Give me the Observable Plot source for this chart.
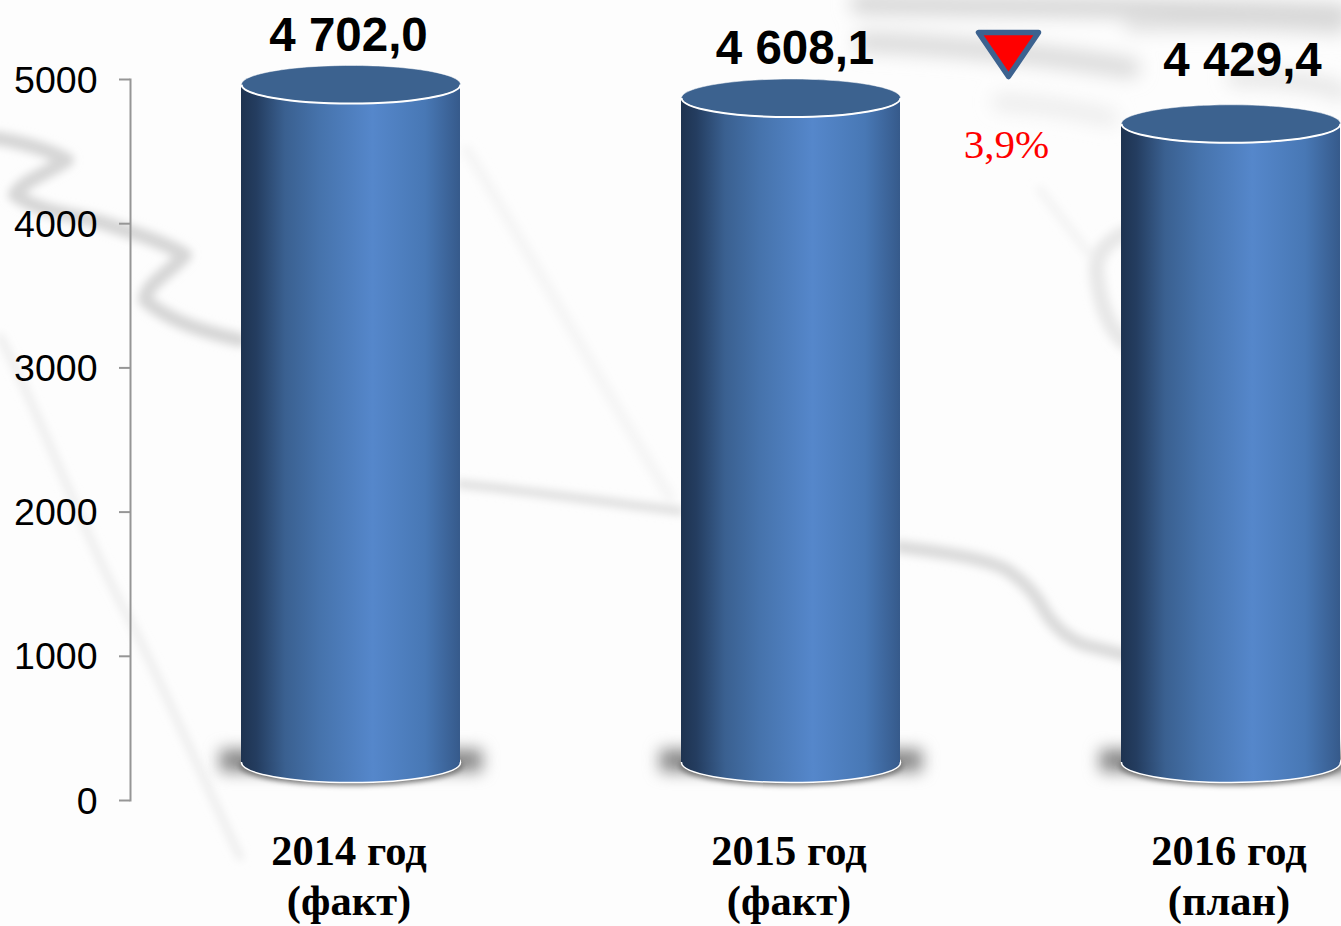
<!DOCTYPE html>
<html lang="ru">
<head>
<meta charset="utf-8">
<script src="https://cdn.jsdelivr.net/npm/d3@7"></script>
<script src="https://cdn.jsdelivr.net/npm/@observablehq/plot@0.6"></script>
<style>
html,body{margin:0;padding:0;width:1341px;height:926px;overflow:hidden;background:#fdfdfd}
#bg{position:absolute;left:0;top:0;width:1341px;height:926px}
#chart{position:absolute;left:0;top:0}
</style>
</head>
<body>
<svg id="bg" viewBox="0 0 1341 926" aria-hidden="true">
  <defs>
    <filter id="soft" filterUnits="userSpaceOnUse" x="-50" y="-50" width="1441" height="1026"><feGaussianBlur stdDeviation="4"/></filter>
    <filter id="softer" filterUnits="userSpaceOnUse" x="700" y="-80" width="741" height="320"><feGaussianBlur stdDeviation="9"/></filter>
  </defs>
  <g fill="none" stroke-linecap="round" stroke-linejoin="round" filter="url(#soft)">
    <path d="M-5 138 C20 142 45 148 67 160 C50 172 20 182 15 195 C40 212 70 214 100 222 C130 232 160 240 185 255 C170 272 145 285 145 300 C170 322 205 332 240 340" stroke="#d6d6d6" stroke-width="14"/>
    <path d="M0 337 C30 390 90 550 130 620 C160 680 190 750 240 857" stroke="#ebebeb" stroke-width="7"/>
    <path d="M467 150 C540 270 610 400 670 497" stroke="#f5f5f5" stroke-width="11"/>
    <path d="M460 484 C540 492 610 503 680 511" stroke="#dcdcdc" stroke-width="8"/>
    <path d="M900 547 C940 552 985 558 1007 570 C1025 582 1035 595 1040 603 C1050 622 1065 638 1085 645 L1125 655" stroke="#dadada" stroke-width="13"/>
    <path d="M1125 233 C1100 245 1095 260 1097 275 C1100 305 1110 330 1125 343" stroke="#e8e8e8" stroke-width="16"/>
    <path d="M1040 190 L1090 255" stroke="#f3f3f3" stroke-width="8"/>
  </g>
  <g fill="none" stroke-linecap="round" filter="url(#softer)">
    <path d="M860 4 C1000 7 1200 7 1341 14" stroke="#d6d6d6" stroke-width="20"/>
    <path d="M865 42 C950 45 1050 55 1130 68" stroke="#dadada" stroke-width="20"/>
    <path d="M1130 26 C1200 24 1270 24 1341 30" stroke="#e0e0e0" stroke-width="12"/>
    <path d="M1235 78 C1280 78 1320 82 1341 92" stroke="#e4e4e4" stroke-width="16"/>
    <path d="M1000 102 C1040 105 1070 108 1110 118" stroke="#ebebeb" stroke-width="16"/>
  </g>
</svg>
<div id="chart"></div>
<script>
const categories = ["2014 год\n(факт)", "2015 год\n(факт)", "2016 год\n(план)"];
const values = [4702.0, 4608.1, 4429.4];
const valueLabels = ["4 702,0", "4 608,1", "4 429,4"];
const yTicks = [0, 1000, 2000, 3000, 4000, 5000];
const changeLabel = ["3,9%"];

const table = categories.map((category, i) => ({category, value: values[i], label: valueLabels[i]}));

// Layout constants: 3-D lift of the cylinders and label nudges
const lift = -38;
const labelDx = [-2.5, 4, 11.5];
const labelDy = [-87, -87, -101];

// Custom dot symbols (sizes are pixel geometry, not data)
const k = 0.5523;
const ellipse = (rx, ry) => ({
  draw(c) {
    c.moveTo(-rx, 0);
    c.bezierCurveTo(-rx, -k * ry, -k * rx, -ry, 0, -ry);
    c.bezierCurveTo(k * rx, -ry, rx, -k * ry, rx, 0);
    c.bezierCurveTo(rx, k * ry, k * rx, ry, 0, ry);
    c.bezierCurveTo(-k * rx, ry, -rx, k * ry, -rx, 0);
    c.closePath();
  }
});
const lowerArc = (rx, ry) => ({
  draw(c) {
    c.moveTo(rx, 0);
    c.bezierCurveTo(rx, k * ry, k * rx, ry, 0, ry);
    c.bezierCurveTo(-k * rx, ry, -rx, k * ry, -rx, 0);
  }
});
const band = (w, h) => ({
  draw(c) { c.moveTo(-w, -h); c.lineTo(w, -h); c.lineTo(w, h); c.lineTo(-w, h); c.closePath(); }
});
const downTriangle = {
  draw(c) { c.moveTo(-30, -20); c.lineTo(30, -20); c.lineTo(0, 24); c.closePath(); }
};

const defs = () => {
  const d = d3.create("svg:defs");
  const g = d.append("linearGradient").attr("id", "cyl").attr("x1", 0).attr("x2", 1).attr("y1", 0).attr("y2", 0);
  [[0, "#1e3350"], [0.07, "#243d60"], [0.2, "#3a6090"], [0.36, "#4673ac"], [0.6, "#5587cb"], [0.84, "#4878b5"], [1, "#365a8b"]]
    .forEach(([o, c]) => g.append("stop").attr("offset", o).attr("stop-color", c));
  return d.node();
};

const axisFont = {fontSize: 37.5, fontFamily: "Liberation Sans", fill: "#000"};

const chart = Plot.plot({
  width: 1341,
  height: 926,
  marginLeft: 130,
  marginRight: 0,
  marginTop: 79,
  marginBottom: 126,
  style: {background: "transparent", overflow: "visible"},
  x: {type: "band", domain: categories, range: [241, 1340], round: false, paddingInner: 0.5023, paddingOuter: 0, label: null},
  y: {domain: [0, 5000], label: null},
  marks: [
    defs,
    Plot.axisY({ticks: yTicks, tickSize: 11, text: null, stroke: "#969696", strokeWidth: 2, label: null}),
    Plot.axisY({ticks: yTicks, tickSize: 0, tickPadding: 33, dy: 1, label: null, tickFormat: d3.format("d"), ...axisFont}),
    Plot.frame({anchor: "left", stroke: "#969696", strokeWidth: 2}),
    Plot.axisX({
      tickSize: 0, tickPadding: 29, dx: -2, label: null, fontSize: 42.5, fontWeight: "bold",
      fontFamily: "Liberation Serif", fill: "#000", lineHeight: 1.18
    }),
    // Ground shadow
    Plot.dot(table, {x: "category", y: 0, dy: -40, symbol: band(131, 11), fill: "#858585", imageFilter: "blur(8px)"}),
    Plot.dot(table, {x: "category", y: 0, dy: -35, symbol: ellipse(112, 20), fill: "#777", imageFilter: "blur(2.5px)"}),
    // Cylinder: base, body, top
    Plot.dot(table, {x: "category", y: 0, dy: lift, symbol: ellipse(109.5, 20), fill: "url(#cyl)", stroke: "#fff", strokeWidth: 1.5}),
    Plot.barY(table, {x: "category", y: "value", dy: lift, fill: "url(#cyl)"}),
    Plot.dot(table, {x: "category", y: "value", dy: lift, symbol: ellipse(109.5, 19), fill: "#3c628f", stroke: "#fff", strokeOpacity: 0.5, strokeWidth: 1}),
    Plot.dot(table, {x: "category", y: "value", dy: lift, symbol: lowerArc(109.5, 19), fill: "none", stroke: "#fff", strokeWidth: 2}),
    // Value labels
    ...table.map((d, i) => Plot.text([d], {
      x: "category", y: "value", text: "label", dx: labelDx[i], dy: labelDy[i],
      fontSize: 47.5, fontWeight: "bold", fontFamily: "Liberation Sans", fill: "#000"
    })),
    // Change annotation
    Plot.dot([0], {frameAnchor: "top-left", dx: 1008 - 130, dy: 52 - 79, symbol: downTriangle, fill: "#ff0000", stroke: "#3c628f", strokeWidth: 5.5, strokeLinejoin: "round"}),
    Plot.text(changeLabel, {frameAnchor: "top-left", text: d => d, textAnchor: "middle", lineAnchor: "middle", dx: 1006 - 130, dy: 144 - 79, fontSize: 41, fontFamily: "Liberation Serif", fill: "#ff0000"})
  ]
});
document.getElementById("chart").append(chart);
</script>
</body>
</html>
